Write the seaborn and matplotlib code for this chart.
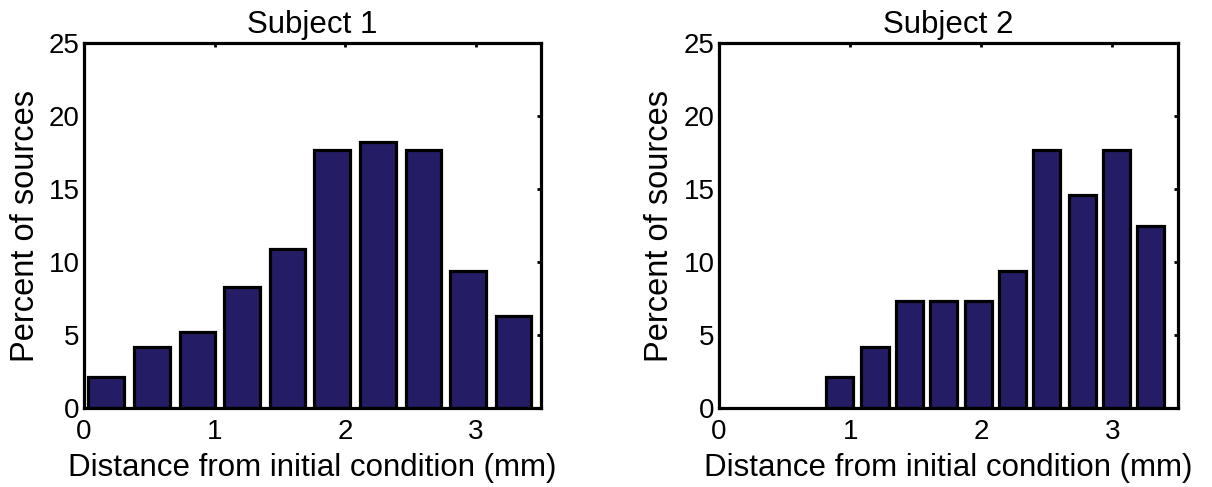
import numpy as np
import pandas as pd
import matplotlib
matplotlib.use("Agg")
import matplotlib.pyplot as plt
import seaborn as sns

# Data (bin centers in mm, percent of sources)
s1_centers = [0.17, 0.52, 0.87, 1.21, 1.56, 1.90, 2.25, 2.60, 2.94, 3.29]
s1_percent = [2.1, 4.2, 5.2, 8.3, 10.9, 17.7, 18.2, 17.7, 9.4, 6.3]
s2_centers = [0.92, 1.19, 1.45, 1.71, 1.98, 2.24, 2.50, 2.77, 3.03, 3.29]
s2_percent = [2.1, 4.2, 7.3, 7.3, 7.3, 9.4, 17.7, 14.6, 17.7, 12.5]
titles = ["Subject 1", "Subject 2"]
xticks = [0, 1, 2, 3]
yticks = [0, 5, 10, 15, 20, 25]

sns.set_theme(style="white")
plt.rcParams['font.family'] = ['Liberation Sans', 'DejaVu Sans']
plt.rcParams['text.color'] = 'black'
plt.rcParams['axes.labelcolor'] = 'black'

fig = plt.figure(figsize=(12.12, 4.87), dpi=100)
ax1 = fig.add_axes([84/1212, 1 - 408/487, 457/1212, 365/487])
ax2 = fig.add_axes([719/1212, 1 - 408/487, 459/1212, 365/487])

bar_color = "#241C64"
for ax, cx, vals, title in [(ax1, s1_centers, s1_percent, titles[0]),
                            (ax2, s2_centers, s2_percent, titles[1])]:
    df = pd.DataFrame({"x": cx, "y": vals})
    sns.barplot(data=df, x="x", y="y", native_scale=True, width=0.8,
                color=bar_color, saturation=1, edgecolor="black",
                linewidth=2.3, ax=ax, zorder=2)
    ax.set_xlim(0, 3.5)
    ax.set_ylim(0, 25)
    ax.set_xticks(xticks)
    ax.set_yticks(yticks)
    ax.set_xticklabels([str(t) for t in xticks])
    ax.set_yticklabels([str(t) for t in yticks])
    ax.tick_params(direction="in", length=3, width=2, colors="black",
                   labelcolor="black", labelsize=20, top=True, right=True)
    ax.tick_params(axis="x", pad=8)
    ax.tick_params(axis="y", pad=3)
    for sp in ax.spines.values():
        sp.set_visible(True)
        sp.set_linewidth(2.3)
        sp.set_color("black")
        sp.set_zorder(5)
    ax.set_xlabel("Distance from initial condition (mm)", fontsize=22.5,
                  labelpad=6, color="black")
    ax.set_ylabel("Percent of sources", fontsize=23.5, labelpad=6,
                  color="black")
    ax.set_title(title, fontsize=22.5, pad=7, color="black")
    ax.grid(False)

fig.savefig("out.png", dpi=100, facecolor="white")
